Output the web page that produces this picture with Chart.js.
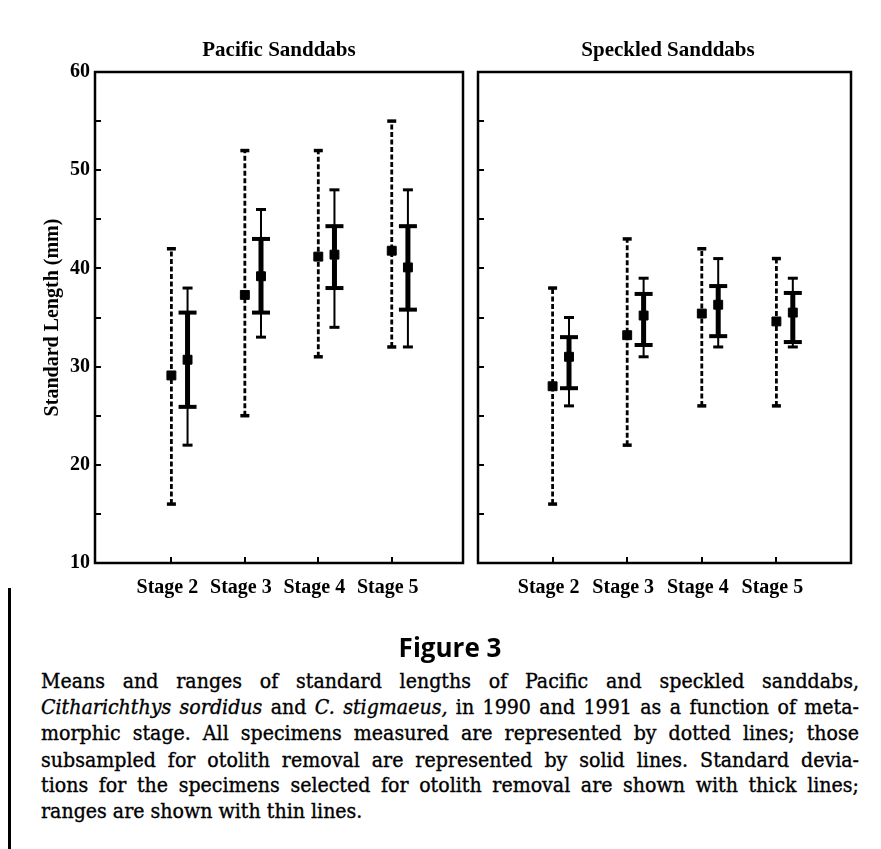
<!DOCTYPE html>
<html>
<head>
<meta charset="utf-8">
<script src="https://cdn.jsdelivr.net/npm/chart.js@4.4.0/dist/chart.umd.min.js"></script>
<style>
html,body{margin:0;padding:0;background:#fff;}
body{width:881px;height:849px;position:relative;overflow:hidden;}
canvas{position:absolute;top:0;}
#c1{left:0;}
#c2{left:470px;}
.ptitle{position:absolute;top:39px;font:bold 21px "Liberation Serif",serif;line-height:21px;color:#000;white-space:nowrap;transform:translateX(-50%);}
#fig{position:absolute;left:450px;top:634px;transform:translateX(-50%);font:bold 26px "Open Sans",sans-serif;line-height:26px;color:#000;white-space:nowrap;}
#cap{position:absolute;left:41px;top:668px;width:818px;font:19px "DejaVu Serif",serif;line-height:23.2px;color:#000;transform:scaleY(1.12);transform-origin:0 0;-webkit-text-stroke:0.35px #000;}
#cap span.l{display:block;text-align:justify;text-align-last:justify;white-space:nowrap;}
#cap span.last{display:block;text-align:left;}
#vline{position:absolute;left:8px;top:588px;width:3px;height:261px;background:#000;}
</style>
</head>
<body>
<canvas id="c1" width="470" height="630"></canvas>
<canvas id="c2" width="411" height="630"></canvas>
<div class="ptitle" style="left:279px;">Pacific Sanddabs</div>
<div class="ptitle" style="left:668px;">Speckled Sanddabs</div>
<div id="fig">Figure 3</div>
<div id="vline"></div>
<div id="cap">
<span class="l">Means and ranges of standard lengths of Pacific and speckled sanddabs,</span>
<span class="l"><i>Citharichthys sordidus</i> and <i>C. stigmaeus,</i> in 1990 and 1991 as a function of meta-</span>
<span class="l">morphic stage. All specimens measured are represented by dotted lines; those</span>
<span class="l">subsampled for otolith removal are represented by solid lines. Standard devia-</span>
<span class="l">tions for the specimens selected for otolith removal are shown with thick lines;</span>
<span class="last">ranges are shown with thin lines.</span>
</div>
<script>
// ---------------- data ----------------
const stages = ['Stage 2', 'Stage 3', 'Stage 4', 'Stage 5'];
const yTickStep = 5;
const yMin = 10, yMax = 60;

// Pacific sanddabs: all specimens measured (dotted)
const pacAllMin  = [16, 25, 31, 32];
const pacAllMax  = [42, 52, 52, 55];
const pacAllMean = [29.1, 37.3, 41.2, 41.8];
// Pacific sanddabs: subsampled for otolith removal (solid)
const pacSubMin  = [22, 33, 34, 32];
const pacSubMax  = [38, 46, 48, 48];
const pacSubMean = [30.7, 39.2, 41.4, 40.1];
const pacSubSdLo = [25.9, 35.5, 38.0, 35.8];
const pacSubSdHi = [35.5, 43.0, 44.3, 44.3];

// Speckled sanddabs: all specimens measured (dotted)
const spkAllMin  = [16, 22, 26, 26];
const spkAllMax  = [38, 43, 42, 41];
const spkAllMean = [28.0, 33.2, 35.4, 34.6];
// Speckled sanddabs: subsampled (solid)
const spkSubMin  = [26, 31, 32, 32];
const spkSubMax  = [35, 39, 41, 39];
const spkSubMean = [31.0, 35.2, 36.3, 35.5];
const spkSubSdLo = [27.8, 32.2, 33.1, 32.5];
const spkSubSdHi = [33.0, 37.4, 38.2, 37.5];

// ---------------- helpers ----------------
const SUB_SHIFT = 0.22;           // solid series drawn just right of the stage
const stageX = i => i + 2;        // stage number on the x scale
const FONT = '"Liberation Serif", serif';

function rangeData(lo, hi, shift) {
  const d = [];
  stages.forEach((s, i) => {
    const x = stageX(i) + shift;
    d.push({x, y: lo[i]}, {x, y: hi[i]}, {x, y: null});
  });
  return d;
}
function meanData(m, shift) {
  return stages.map((s, i) => ({x: stageX(i) + shift, y: m[i]}));
}

const framePlugin = {
  id: 'frame',
  afterDatasetsDraw(chart) {
    const {ctx, chartArea: a} = chart;
    ctx.save();
    ctx.strokeStyle = '#000';
    ctx.lineWidth = 2.5;
    ctx.strokeRect(a.left, a.top, a.right - a.left, a.bottom - a.top);
    ctx.restore();
  }
};

function makeChart(id, d, o) {
  const black = '#000';
  const datasets = [
    { label: 'mean all', data: meanData(d.allMean, 0), showLine: false,
      pointStyle: 'rect', pointRadius: 6.3, pointBorderWidth: 1,
      pointBackgroundColor: black, pointBorderColor: black },
    { label: 'mean sub', data: meanData(d.subMean, SUB_SHIFT), showLine: false,
      pointStyle: 'rect', pointRadius: 6.3, pointBorderWidth: 1,
      pointBackgroundColor: black, pointBorderColor: black },
    { label: 'range all', data: rangeData(d.allMin, d.allMax, 0),
      borderColor: black, borderWidth: 2.8, borderDash: [5, 2.5], spanGaps: false,
      pointStyle: 'line', pointRadius: 4.5, pointBorderWidth: 3.5, pointBorderColor: black },
    { label: 'range sub', data: rangeData(d.subMin, d.subMax, SUB_SHIFT),
      borderColor: black, borderWidth: 2, spanGaps: false,
      pointStyle: 'line', pointRadius: 5, pointBorderWidth: 3, pointBorderColor: black },
    { label: 'sd sub', data: rangeData(d.sdLo, d.sdHi, SUB_SHIFT),
      borderColor: black, borderWidth: 5, spanGaps: false,
      pointStyle: 'line', pointRadius: 9, pointBorderWidth: 4, pointBorderColor: black }
  ];
  return new Chart(document.getElementById(id), {
    type: 'line',
    data: { datasets },
    options: {
      responsive: false, animation: false, devicePixelRatio: 1, events: [],
      layout: { autoPadding: false, padding: { top: 72, right: o.padRight, left: 0, bottom: 0 } },
      plugins: { legend: { display: false }, tooltip: { enabled: false }, title: { display: false } },
      scales: {
        x: {
          type: 'linear', min: o.xMin, max: o.xMax,
          afterBuildTicks: s => { s.ticks = stages.map((_, i) => ({ value: stageX(i) })); },
          afterFit: s => { s.height = 67; s.paddingLeft = 0; s.paddingRight = 0; },
          border: { display: false },
          grid: { drawOnChartArea: false, drawTicks: true, tickLength: -6, color: black, lineWidth: 2 },
          ticks: { color: black, padding: 19, labelOffset: -4, maxRotation: 0, autoSkip: false,
                   font: { family: FONT, size: 20, weight: 'bold' },
                   callback: v => stages[Math.round(v) - 2] }
        },
        y: {
          type: 'linear', min: yMin, max: yMax,
          afterFit: s => { s.width = o.yWidth; },
          border: { display: false },
          grid: { drawOnChartArea: false, drawTicks: true, tickLength: -6, color: black, lineWidth: 2 },
          ticks: { stepSize: yTickStep, color: black, padding: 11, autoSkip: false,
                   font: { family: FONT, size: 20, weight: 'bold' },
                   callback: v => (o.showY && v % 10 === 0) ? String(v) : '' },
          title: { display: o.showY, text: 'Standard Length (mm)', color: black,
                   font: { family: FONT, size: 20, weight: 'bold' }, padding: { top: 41, bottom: 0 } }
        }
      }
    },
    plugins: [framePlugin]
  });
}

makeChart('c1', {
  allMin: pacAllMin, allMax: pacAllMax, allMean: pacAllMean,
  subMin: pacSubMin, subMax: pacSubMax, subMean: pacSubMean, sdLo: pacSubSdLo, sdHi: pacSubSdHi
}, { xMin: 0.96, xMax: 5.97, yWidth: 95, padRight: 7, showY: true });

makeChart('c2', {
  allMin: spkAllMin, allMax: spkAllMax, allMean: spkAllMean,
  subMin: spkSubMin, subMax: spkSubMax, subMean: spkSubMean, sdLo: spkSubSdLo, sdHi: spkSubSdHi
}, { xMin: 1, xMax: 6, yWidth: 8, padRight: 30, showY: false });
</script>
</body>
</html>
